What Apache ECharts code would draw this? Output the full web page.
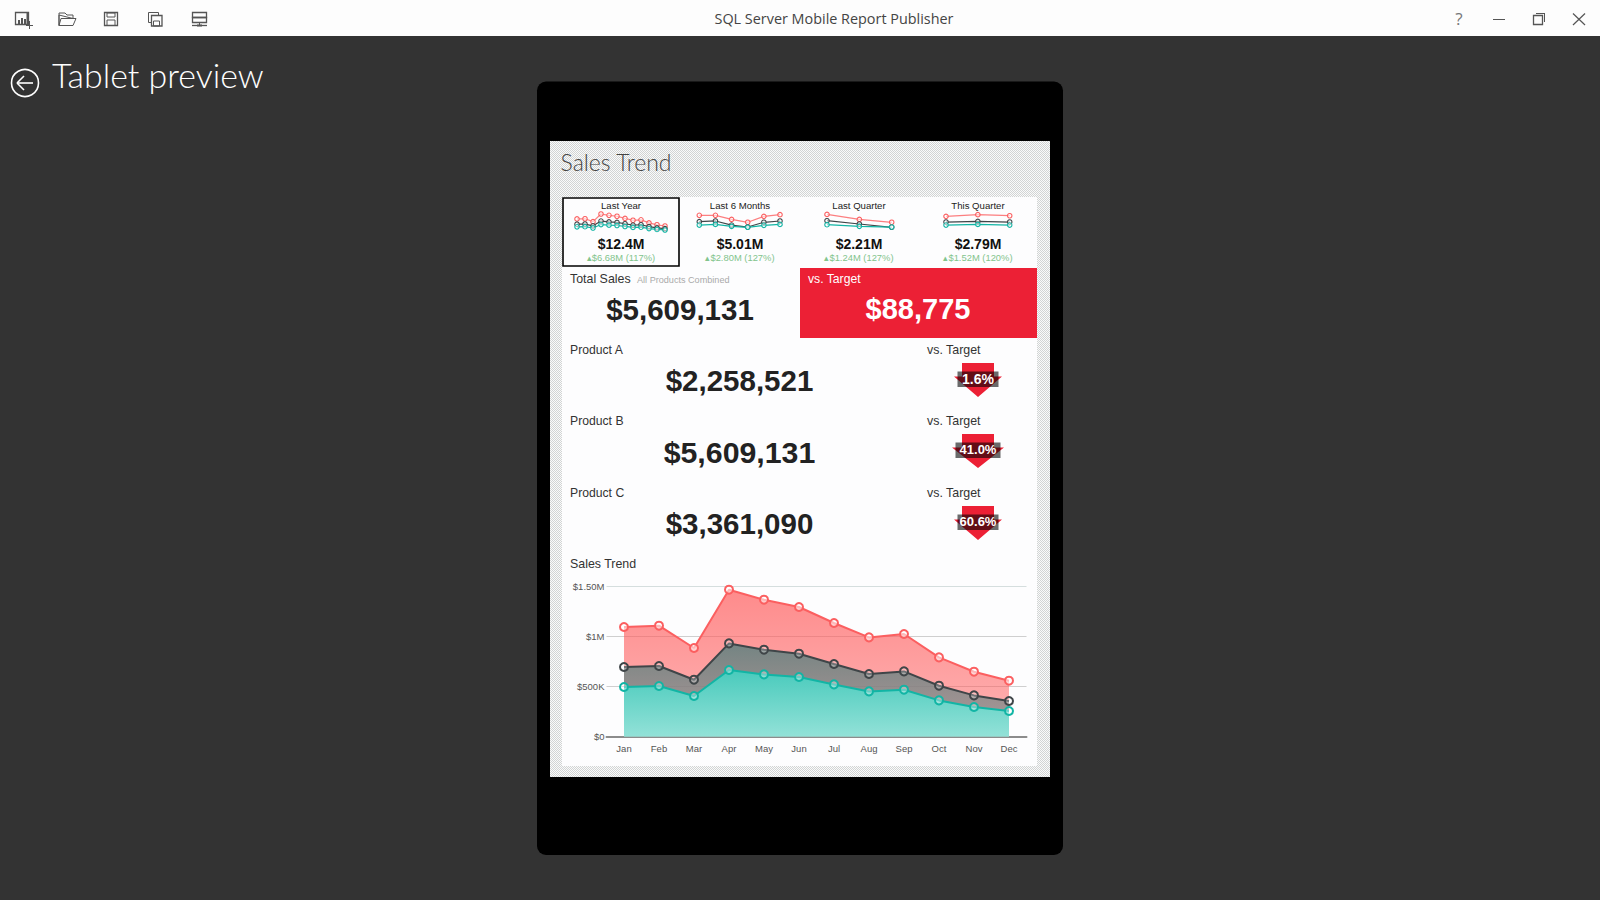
<!DOCTYPE html>
<html><head><meta charset="utf-8">
<style>html,body{margin:0;padding:0;background:#333;overflow:hidden}#c{width:1600px;height:900px}</style>
<script src="https://cdn.jsdelivr.net/npm/echarts@6/dist/echarts.min.js"></script>
</head><body><div id="c"></div>
<script>
// ---- data ----
const months = ['Jan','Feb','Mar','Apr','May','Jun','Jul','Aug','Sep','Oct','Nov','Dec'];
const yTicks = {0:'$0',500000:'$500K',1000000:'$1M',1500000:'$1.50M'};
const redSales  = [1097000,1110000,887000,1470000,1370000,1297000,1137000,993000,1027000,793000,650000,560000];
const darkSales = [697000,707000,570000,933000,870000,830000,727000,627000,653000,510000,413000,357000];
const tealSales = [497000,507000,407000,667000,623000,597000,523000,453000,470000,363000,297000,257000];

const tileNames  = ['Last Year','Last 6 Months','Last Quarter','This Quarter'];
const tileTotals = ['$12.4M','$5.01M','$2.21M','$2.79M'];
const tileDeltas = ['▴$6.68M (117%)','▴$2.80M (127%)','▴$1.24M (127%)','▴$1.52M (120%)'];

const sixMonths = ['M1','M2','M3','M4','M5','M6'];
const sixRed  = [1370000,1370000,1060000,840000,1290000,1420000];
const sixDark = [890000,940000,630000,480000,840000,940000];
const sixTeal = [630000,680000,530000,460000,610000,680000];
const lastQMonths = ['M1','M2','M3'];
const lastQRed  = [1440000,1060000,840000];
const lastQDark = [960000,710000,460000];
const lastQTeal = [660000,530000,480000];
const thisQMonths = ['M1','M2','M3'];
const thisQRed  = [1290000,1420000,1340000];
const thisQDark = [860000,910000,860000];
const thisQTeal = [630000,680000,630000];

const totalSales = '$5,609,131';
const totalVsTarget = '$88,775';
const productNames  = ['Product A','Product B','Product C'];
const productValues = ['$2,258,521','$5,609,131','$3,361,090'];
const productGaps   = ['1.6%','41.0%','60.6%'];

// ---- colours ----
const RED='#fb5f60', DARK='#3f4548', TEAL='#12b5a5', INK='#222';
const LIB='"Liberation Sans",Arial,sans-serif', LIGHT='"Open Sans",sans-serif', THIN='Lato,"Open Sans",sans-serif';

// ---- helpers for chrome and KPI blocks ----
const g=[];
const T=(x,y,text,size,fill,o={})=>g.push({type:'text',z:1,style:{x,y,text,fontSize:size,fill,
  fontFamily:o.family||LIB,fontWeight:o.weight||'normal',textAlign:o.align||'left',textVerticalAlign:'middle',verticalAlign:'middle'}});
const R=(x,y,w,h,fill,o={})=>g.push({type:'rect',z:0,shape:{x,y,width:w,height:h,r:o.r||0},
  style:{fill:fill,stroke:o.stroke||null,lineWidth:o.lw||1,opacity:o.op==null?1:o.op}});
const L=(x1,y1,x2,y2,c='#555',w=1)=>g.push({type:'line',z:1,shape:{x1,y1,x2,y2},style:{stroke:c,lineWidth:w}});
const P=(pts,fill,stroke)=>g.push({type:'polygon',z:1,shape:{points:pts},style:{fill:fill||'none',stroke:stroke||null,lineWidth:1}});
const C=(cx,cy,r,stroke,w)=>g.push({type:'circle',z:1,shape:{cx,cy,r},style:{fill:'none',stroke,lineWidth:w}});

// dither texture
const pc=document.createElement('canvas');pc.width=2;pc.height=2;
const px=pc.getContext('2d');px.fillStyle='#fafbfb';px.fillRect(0,0,2,2);px.fillStyle='#d2d4d4';px.fillRect(0,0,1,1);px.fillRect(1,1,1,1);

// window chrome
R(0,0,1600,36,'#fdfdfd');
T(834,18.5,'SQL Server Mobile Report Publisher',14.4,'#444',{align:'center',family:LIGHT});
// toolbar icons
R(15.5,12.5,13,12,'none',{stroke:'#555',lw:1.3});
R(18,20,2,4,'#555');R(21,18,2,6,'#555');R(24,19,2,5,'#555');R(26.5,13,2,11,'#555');
L(29.5,21,29.5,29,'#555');L(26,25.5,33,25.5,'#555');
P([[59,15],[59,25.5],[73,25.5],[76,18.5],[61,18.5],[59,25.5]],null,'#555');
P([[59,15],[59,13],[65,13],[67,15],[73,15],[73,18.5]],null,'#555');
R(104.5,12.5,13,13,'none',{stroke:'#555',lw:1.3});R(107,13,8,4,'none',{stroke:'#555'});R(107,20,8,5.5,'none',{stroke:'#555'});
R(148.5,12.5,10,10,'none',{stroke:'#555'});R(151.5,15.5,10.5,10.5,'#fdfdfd',{stroke:'#555',lw:1.3});R(153.5,21,6,5,'none',{stroke:'#555'});
R(192.5,12.5,14,5,'none',{stroke:'#555',lw:1.3});R(192.5,17.5,14,5,'none',{stroke:'#555',lw:1.3});
L(199.5,22.5,199.5,25,'#555');L(192,25.5,207,25.5,'#555',1.3);R(197,24.5,5,2,'#555');
T(1459,18,'?',17,'#777',{align:'center',family:LIGHT});
L(1493,19.5,1505,19.5,'#555',1);
R(1533.5,15.5,9,9,'none',{stroke:'#555',lw:1.3});L(1536,13.5,1545,13.5,'#555');L(1544.5,13.5,1544.5,22,'#555');
L(1573,13.5,1585,25,'#555',1.2);L(1585,13.5,1573,25,'#555',1.2);
// header
C(25,83,13.5,'#fff',1.6);L(17,83,33,83,'#fff',1.6);L(24,76,17,83,'#fff',1.6);L(24,90,17,83,'#fff',1.6);
T(52,75,'Tablet preview',33.9,'#fff',{family:THIN,weight:300});
// tablet
R(537,81.5,526,773.5,'#000',{r:9});
R(550,141,500,636,{image:pc,repeat:'repeat'});
R(562,197,475,569,'#fdfdfe');
T(560.5,162,'Sales Trend',23,'#444',{family:THIN,weight:300});
// tiles
R(563,198,116,68,'none',{stroke:'#000',lw:1.6});
const tileX=[621,740,859,978];
tileNames.forEach((n,i)=>{
  T(tileX[i],205.7,n,9.6,INK,{align:'center'});
  T(tileX[i],243.7,tileTotals[i],14,'#111',{align:'center',weight:'bold'});
  T(tileX[i],257,tileDeltas[i],9.4,'#82c48c',{align:'center'});
});
// totals
T(570,279,'Total Sales',12.4,'#333');
T(637,280,'All Products Combined',9.1,'#aaa');
T(680,309,totalSales,29.5,INK,{align:'center',weight:'bold'});
R(800,268,237,70,'#ec2035');
T(808,279,'vs. Target',12.2,'#fff');
T(918,309,totalVsTarget,29,'#fff',{align:'center',weight:'bold'});
// products
const rowName=[350,421,492.7], rowVal=[380.2,452.2,523], rowSize=[29.5,30.3,29.5];
const arrowTop=[363,434,506], boxW=[41,45,41];
productNames.forEach((n,i)=>{
  T(570,rowName[i],n,12.2,'#333');
  T(927,rowName[i],'vs. Target',12.4,'#333');
  T(739.5,rowVal[i],productValues[i],rowSize[i],INK,{align:'center',weight:'bold'});
  const t=arrowTop[i], hw=(boxW[i]+7)/2;
  P([[962,t],[994,t],[994,t+13.5],[978+hw,t+13.5],[978,t+34],[978-hw,t+13.5],[962,t+13.5]],'#ec2035');
  R(978-boxW[i]/2,t+8.5,boxW[i],15.5,'#000',{op:0.58});
  g[g.length-1].z=1;
  T(978,t+15.7,productGaps[i],productGaps[i].length>4?13:14,'#fff',{align:'center',weight:'bold'});
});
T(570,563.6,'Sales Trend',12.4,'#333');

// ---- series ----
const grids=[
 {left:606.5,width:420,top:586.7,height:150},
 {left:577,width:88,top:213.6,height:19.75},
 {left:699.3,width:80.7,top:213.6,height:19.75},
 {left:827,width:64.7,top:213.6,height:19.75},
 {left:946,width:63.7,top:213.6,height:19.75}
];
const sparkCats=[months,sixMonths,lastQMonths,thisQMonths];
const sparkData=[[redSales,darkSales,tealSales],[sixRed,sixDark,sixTeal],[lastQRed,lastQDark,lastQTeal],[thisQRed,thisQDark,thisQTeal]];
const xAxes=[{gridIndex:0,type:'category',data:months,boundaryGap:true,
  axisLine:{lineStyle:{color:'#8c8c8c',width:2}},axisTick:{show:false},
  axisLabel:{color:'#555',fontSize:9.5,fontFamily:LIB,margin:7,interval:0}}];
const yAxes=[{gridIndex:0,type:'value',min:0,max:1500000,interval:500000,
  axisLine:{show:false},axisTick:{show:false},
  splitLine:{lineStyle:{color:['#888','#cfcfcf','#cfcfcf','#d5dede'],width:1}},
  axisLabel:{color:'#555',fontSize:9.5,fontFamily:LIB,margin:2,formatter:v=>yTicks[v]}}];
const grad=(a,b)=>({type:'linear',x:0,y:0,x2:0,y2:1,colorStops:[{offset:0,color:a},{offset:1,color:b}]});
const mainSeries=(name,data,c,fill,sym)=>({name,type:'line',xAxisIndex:0,yAxisIndex:0,data,
  symbol:'circle',symbolSize:8,showSymbol:true,showAllSymbol:true,clip:false,
  lineStyle:{color:c,width:2},itemStyle:{color:sym,borderColor:c,borderWidth:2},areaStyle:{color:fill,opacity:1}});
const series=[
 mainSeries('Red',redSales,RED,grad('rgba(255,90,90,0.7)','rgba(255,90,90,0.45)'),'rgba(255,255,255,0.55)'),
 mainSeries('Dark',darkSales,DARK,grad('rgba(100,130,128,0.9)','rgba(130,140,140,0.62)'),'rgba(255,255,255,0.25)'),
 mainSeries('Teal',tealSales,TEAL,grad('rgba(70,205,190,0.96)','rgba(146,227,217,0.98)'),'rgba(255,255,255,0.35)')
];
sparkCats.forEach((cats,i)=>{
  xAxes.push({gridIndex:i+1,type:'category',data:cats,boundaryGap:false,show:false});
  yAxes.push({gridIndex:i+1,type:'value',min:0,max:1500000,show:false});
  [[RED,0],[DARK,1],[TEAL,2]].forEach(([c,k])=>series.push({type:'line',xAxisIndex:i+1,yAxisIndex:i+1,
    data:sparkData[i][k],symbol:'circle',symbolSize:4.5,showSymbol:true,showAllSymbol:true,clip:false,
    lineStyle:{color:c,width:1.2,opacity:k==0?0.8:1},
    itemStyle:{color:'rgba(255,255,255,0.55)',borderColor:c,borderWidth:1.1}}));
});

const chart=echarts.init(document.getElementById('c'),null,{renderer:'svg',width:1600,height:900});
chart.setOption({animation:false,backgroundColor:'#333',tooltip:{show:false},grid:grids,xAxis:xAxes,yAxis:yAxes,series,graphic:{elements:g}});
</script></body></html>
